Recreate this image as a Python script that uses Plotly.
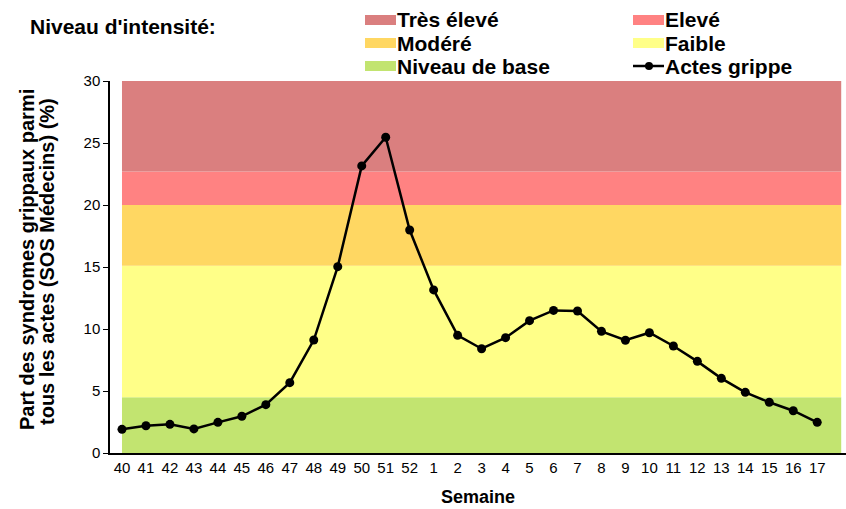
import plotly.graph_objects as go

# weekly share of flu syndromes among SOS Médecins consultations
weeks = [40, 41, 42, 43, 44, 45, 46, 47, 48, 49, 50, 51, 52,
         1, 2, 3, 4, 5, 6, 7, 8, 9, 10, 11, 12, 13, 14, 15, 16, 17]
flu_share = [1.91, 2.2, 2.31, 1.94, 2.47, 2.96, 3.9, 5.67, 9.11, 15.03, 23.15, 25.46, 17.98,
             13.15, 9.49, 8.41, 9.3, 10.67, 11.5, 11.45, 9.81, 9.09, 9.7, 8.63, 7.39,
             6.02, 4.89, 4.09, 3.41, 2.47]

# intensity bands
level_names = ["Niveau de base", "Faible", "Modéré", "Elevé", "Très élevé"]
level_low = [0, 4.5, 15.1, 20, 22.7]
level_high = [4.5, 15.1, 20, 22.7, 30]
level_colors = ["#C2E470", "#FFFF88", "#FFD762", "#FF8282", "#DA7F7F"]

W, H = 846, 509
ML, MR, MT, MB = 110, 0, 81, 56
PW, PH = W - ML - MR, H - MT - MB


def px_x(p):
    return (p - ML) / PW


def px_y(p):
    return (H - MB - p) / PH


FONT = "Liberation Sans, Arial, sans-serif"
n = len(weeks)
idx = list(range(n))

fig = go.Figure()
for name, lo, hi, col in zip(level_names, level_low, level_high, level_colors):
    fig.add_trace(go.Scatter(x=[0, n, n, 0], y=[lo, lo, hi, hi], fill="toself",
                             fillcolor=col, mode="none", showlegend=False,
                             hoverinfo="skip", name=name))

fig.add_trace(go.Scatter(x=idx, y=flu_share, mode="lines+markers", name="Actes grippe",
                         line=dict(color="black", width=2.5),
                         marker=dict(color="black", size=9), showlegend=False))

fig.update_xaxes(range=[-0.5, 30.2], tickvals=idx, ticktext=[str(w) for w in weeks],
                 showline=True, linecolor="black", linewidth=1.5, ticks="",
                 showgrid=False, zeroline=False,
                 tickfont=dict(family=FONT, size=15, color="black"),
                 title=dict(text="<b>Semaine</b>", font=dict(family=FONT, size=18, color="black"), standoff=16))
fig.update_yaxes(range=[0, 30], dtick=5, showline=True, linecolor="black", linewidth=1.5,
                 ticks="outside", ticklen=5, tickcolor="black", showgrid=False, zeroline=False,
                 tickfont=dict(family=FONT, size=15, color="black"))

annotations = [
    dict(text="<b>Part des syndromes grippaux parmi</b>",
         textangle=-90, xref="paper", yref="paper", x=px_x(27), y=px_y(260),
         xanchor="center", yanchor="middle", showarrow=False,
         font=dict(family=FONT, size=20, color="black")),
    dict(text="<b>tous les actes (SOS Médecins) (%)</b>",
         textangle=-90, xref="paper", yref="paper", x=px_x(47), y=px_y(262),
         xanchor="center", yanchor="middle", showarrow=False,
         font=dict(family=FONT, size=20, color="black")),
    dict(text="<b>Niveau d'intensité:</b>", xref="paper", yref="paper",
         x=px_x(28), y=px_y(27), xanchor="left", yanchor="middle", showarrow=False,
         font=dict(family=FONT, size=21, color="black")),
]
shapes = []

# manual legend: 3 rows x 2 columns
legend_items = [("Très élevé", level_colors[4]), ("Elevé", level_colors[3]),
                ("Modéré", level_colors[2]), ("Faible", level_colors[1]),
                ("Niveau de base", level_colors[0]), ("Actes grippe", None)]
col_x = [365, 633]
row_y = [20, 43, 66]
for i, (label, col) in enumerate(legend_items):
    cx = col_x[i % 2]
    cy = row_y[i // 2]
    if col:
        shapes.append(dict(type="rect", xref="paper", yref="paper",
                           x0=px_x(cx), x1=px_x(cx + 31), y0=px_y(cy + 5), y1=px_y(cy - 5),
                           fillcolor=col, line=dict(width=0)))
    else:
        shapes.append(dict(type="line", xref="paper", yref="paper",
                           x0=px_x(cx), x1=px_x(cx + 31), y0=px_y(cy), y1=px_y(cy),
                           line=dict(color="black", width=2.5)))
        shapes.append(dict(type="circle", xref="paper", yref="paper",
                           x0=px_x(cx + 12), x1=px_x(cx + 20), y0=px_y(cy + 4), y1=px_y(cy - 4),
                           fillcolor="black", line=dict(width=0)))
    annotations.append(dict(text="<b>" + label + "</b>", xref="paper", yref="paper",
                            x=px_x(cx + 30), y=px_y(cy), xanchor="left", yanchor="middle",
                            showarrow=False, font=dict(family=FONT, size=21, color="black")))

fig.update_layout(width=W, height=H, margin=dict(l=ML, r=MR, t=MT, b=MB),
                  plot_bgcolor="white", paper_bgcolor="white",
                  annotations=annotations, shapes=shapes, showlegend=False)

fig.write_html("out.html", config={"displayModeBar": False},
               post_script="document.body.style.margin='0';")
